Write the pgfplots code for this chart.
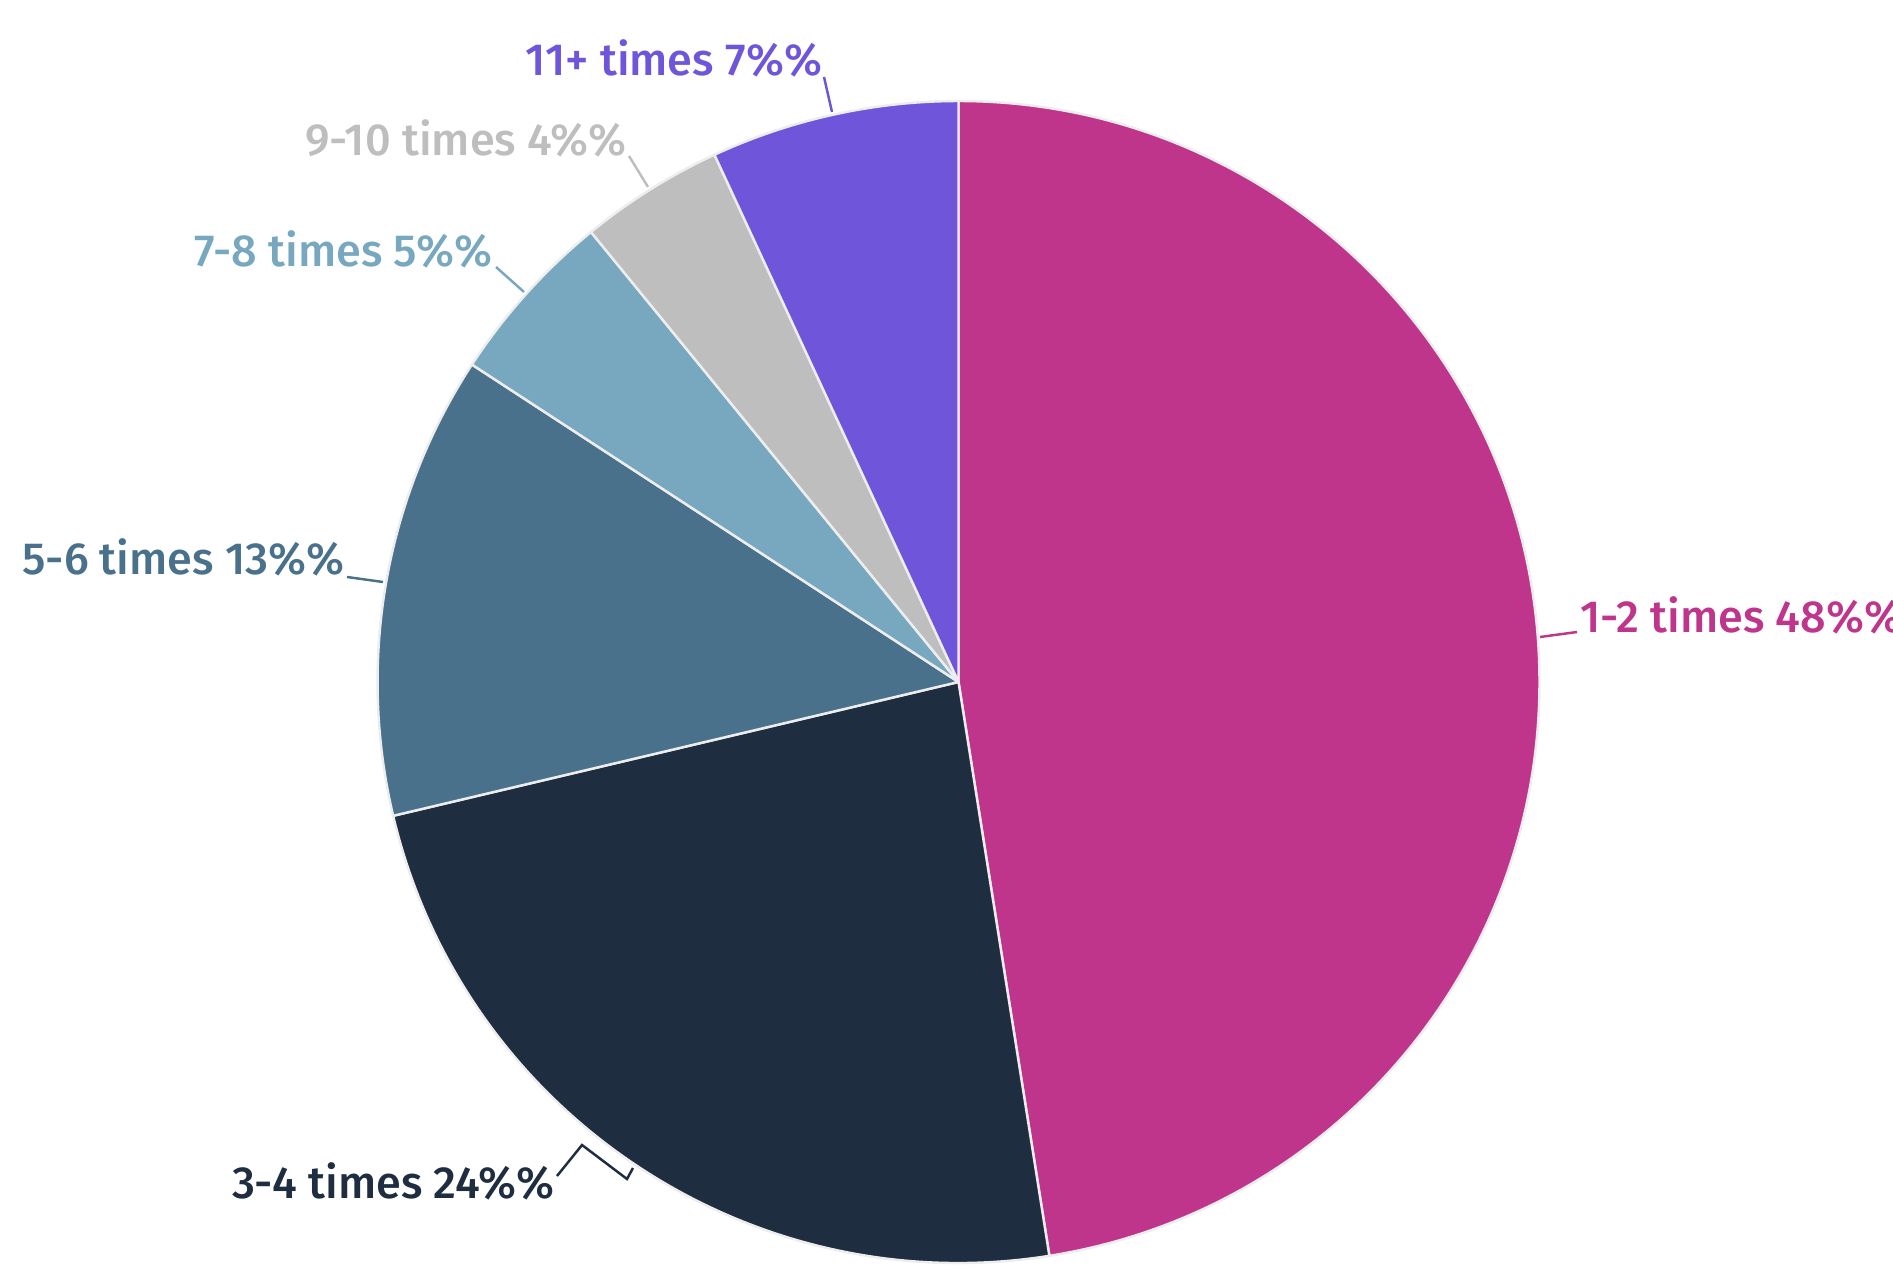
\documentclass[border=0pt]{standalone}
\usepackage{pgfplots}
\pgfplotsset{compat=1.18}
\usepackage{fontspec}
\setmainfont{Fira Sans Medium}
\definecolor{c1}{HTML}{BF358B}
\definecolor{c2}{HTML}{1E2D40}
\definecolor{c3}{HTML}{4A718C}
\definecolor{c4}{HTML}{77A8C0}
\definecolor{c5}{HTML}{BEBEBE}
\definecolor{c6}{HTML}{6E55DA}
\definecolor{border}{HTML}{EDEDED}
\begin{document}
\begin{tikzpicture}
\begin{axis}[scale only axis, width=189.3mm, height=128.2mm,
  xmin=0, xmax=1893, ymin=0, ymax=1282, y dir=reverse,
  hide axis, clip=false]
\coordinate (BL) at (axis cs:0,1282);
\coordinate (TR) at (axis cs:1893,0);
\gdef\cum{0}
\foreach \v/\c in {47.5/c1, 23.8/c2, 12.9/c3, 4.9/c4, 4.0/c5, 6.9/c6} {
  \pgfmathsetmacro\a{90-3.6*\cum}
  \pgfmathsetmacro\b{90-3.6*(\cum+\v)}
  \edef\temp{\noexpand\filldraw[fill=\c, draw=border, line width=0.7pt, line join=round]
    (axis cs:958.5,682) -- ++(\a:58.1mm) arc[start angle=\a, end angle=\b, radius=58.1mm] -- cycle;}
  \temp
  \pgfmathsetmacro\newcum{\cum+\v}
  \xdef\cum{\newcum}
}
\tikzset{lab/.style={inner sep=0pt, font=\fontsize{12.8}{15}\selectfont}}
% leader lines
\draw[c1, line width=0.7pt] (axis cs:1540,637) -- (axis cs:1577,632);
\draw[c2, line width=0.7pt] (axis cs:557,1176) -- (axis cs:582,1145) -- (axis cs:627,1179) -- (axis cs:633,1168);
\draw[c3, line width=0.7pt] (axis cs:347,577) -- (axis cs:383,582);
\draw[c4, line width=0.7pt] (axis cs:496,267) -- (axis cs:524,292);
\draw[c5, line width=0.7pt] (axis cs:629,156) -- (axis cs:648,187);
\draw[c6, line width=0.7pt] (axis cs:824,77) -- (axis cs:832,112);
% labels
\node[lab, anchor=base west, text=c1] at (axis cs:1580,633) {1-2 times 48\%\%};
\node[lab, anchor=base east, text=c2] at (axis cs:555,1198) {3-4 times 24\%\%};
\node[lab, anchor=base east, text=c3] at (axis cs:345,575) {5-6 times 13\%\%};
\node[lab, anchor=base east, text=c4] at (axis cs:493,267) {7-8 times 5\%\%};
\node[lab, anchor=base east, text=c5] at (axis cs:627,156) {9-10 times 4\%\%};
\node[lab, anchor=base east, text=c6] at (axis cs:823,76) {11+ times 7\%\%};
\end{axis}
\pgfresetboundingbox
\useasboundingbox (BL) rectangle (TR);
\end{tikzpicture}
\end{document}
